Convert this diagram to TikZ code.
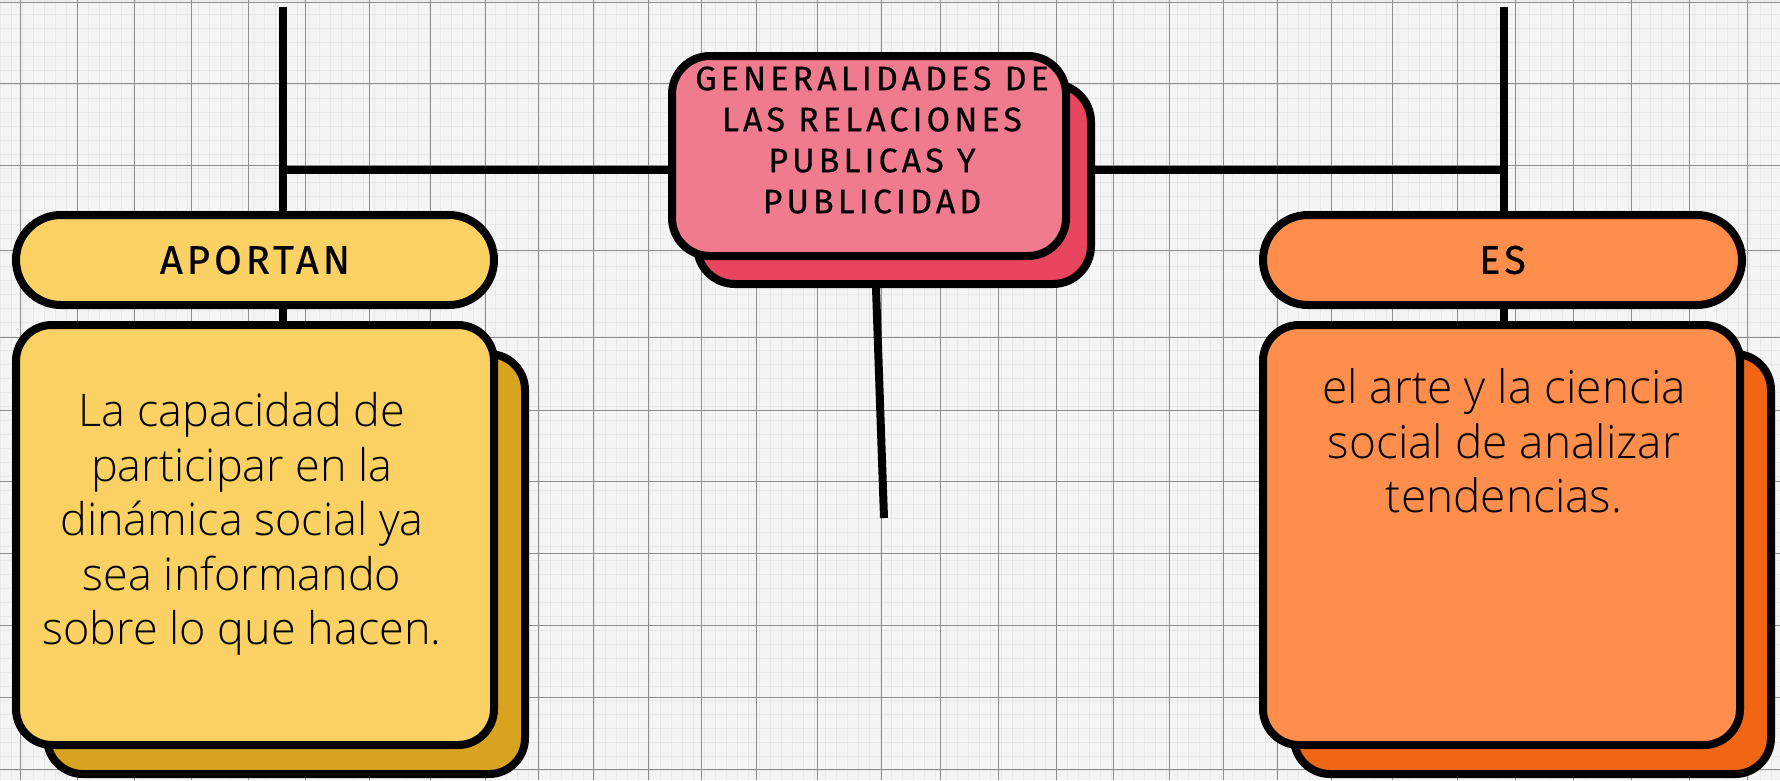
\documentclass[tikz,border=0pt]{standalone}
\usepackage{fontspec}
\setmainfont{Open Sans Light}
\newfontfamily\ttlfnt[LetterSpace=12,FakeBold=0.5]{Fira Sans}
\newfontfamily\lblfnt[LetterSpace=10,FakeBold=0.5]{Fira Sans}
\definecolor{paperbg}{HTML}{F4F4F4}
\definecolor{gridmaj}{HTML}{8E8E8E}
\definecolor{gridmin}{HTML}{E8E8E8}
\definecolor{pinkF}{HTML}{F07B8E}
\definecolor{pinkB}{HTML}{E8455F}
\definecolor{yelF}{HTML}{FAD162}
\definecolor{yelB}{HTML}{D8A31E}
\definecolor{oraF}{HTML}{FF8E4C}
\definecolor{oraB}{HTML}{F06614}
\pgfdeclarelayer{paper}
\pgfdeclarelayer{links}
\pgfsetlayers{paper,links,main}
\begin{document}
\begin{tikzpicture}[x=1pt,y=-1pt,
  box/.style={draw=black, line width=8pt, rounded corners=#1, inner sep=0pt},
  conn/.style={draw=black, line width=8pt},
  bodytxt/.style={align=center, inner sep=0pt},
  pilltxt/.style={font=\lblfnt\fontsize{40}{48}\selectfont}]
\path[use as bounding box] (0,0) rectangle (1780,780);
% boxes
\node[box=38, fill=pinkB, minimum width=394pt, minimum height=200pt] (titleB) at (894,184) {};
\node[box=38, fill=pinkF, minimum width=394pt, minimum height=200pt] (titleF) at (869,156) {};
\node[align=center, inner sep=0pt, font=\ttlfnt\fontsize{34}{41}\selectfont] (titleT) at (872,140)
  {GENERALIDADES DE\\LAS RELACIONES\\PUBLICAS Y\\PUBLICIDAD};
\node[box=45, fill=yelF, minimum width=478pt, minimum height=90pt, pilltxt] (aport) at (255,260) {APORTAN};
\node[box=45, fill=oraF, minimum width=479pt, minimum height=90pt, pilltxt] (es) at (1502.5,260) {ES};
\node[box=36, fill=yelB, minimum width=478pt, minimum height=420pt] (bigLB) at (286,564) {};
\node[box=36, fill=yelF, minimum width=478pt, minimum height=420pt] (bigLF) at (255,535) {};
\node[box=36, fill=oraB, minimum width=477pt, minimum height=420pt] (bigRB) at (1532.5,564) {};
\node[box=36, fill=oraF, minimum width=477pt, minimum height=420pt] (bigRF) at (1501.5,535) {};
\node[bodytxt, font=\fontsize{45}{54.5}\selectfont] (leftT) at (242,524)
  {La capacidad de\\participar en la\\dinámica social ya\\sea informando\\sobre lo que hacen.};
\node[bodytxt, font=\fontsize{46}{54.5}\selectfont] (rightT) at (1504,441)
  {el arte y la ciencia\\social de analizar\\tendencias.};
% connectors
\coordinate (LT) at (283,7);
\coordinate (RT) at (1504,7);
\coordinate (JL) at (283,170);
\coordinate (JR) at (1504,170);
\coordinate (DE) at (884,518);
\begin{pgfonlayer}{links}
\draw[conn] (LT) -- (LT |- bigLF.north);
\draw[conn] (RT) -- (RT |- bigRF.north);
\draw[conn] (JL) -- (JL -| titleF.west);
\draw[conn] (titleF.east |- JR) -- (JR);
\draw[conn] ([xshift=-18pt]titleB.south) -- (DE);
\end{pgfonlayer}
% paper background
\begin{pgfonlayer}{paper}
\fill[paperbg] (0,0) rectangle (1780,780);
\foreach \x in {0,11,...,1780} \draw[gridmin, line width=0.5pt] (\x,0) -- (\x,780);
\foreach \y in {0,14,...,780} \draw[gridmin, line width=0.5pt] (0,\y) -- (1780,\y);
\foreach \x in {20,77,134,191,248,305,369,430,485,538,593,648,701,756,817,881,940,998,1056,1113,1169,1223,1277,1331,1392,1457,1515,1573,1631,1689,1747}
  \draw[gridmaj, line width=1pt] (\x,0) -- (\x,780);
\foreach \y in {2,83,165,250,337,410,481,553,625,697,769}
  \draw[gridmaj, line width=1pt] (0,\y) -- (1780,\y);
\end{pgfonlayer}
\end{tikzpicture}
\end{document}
